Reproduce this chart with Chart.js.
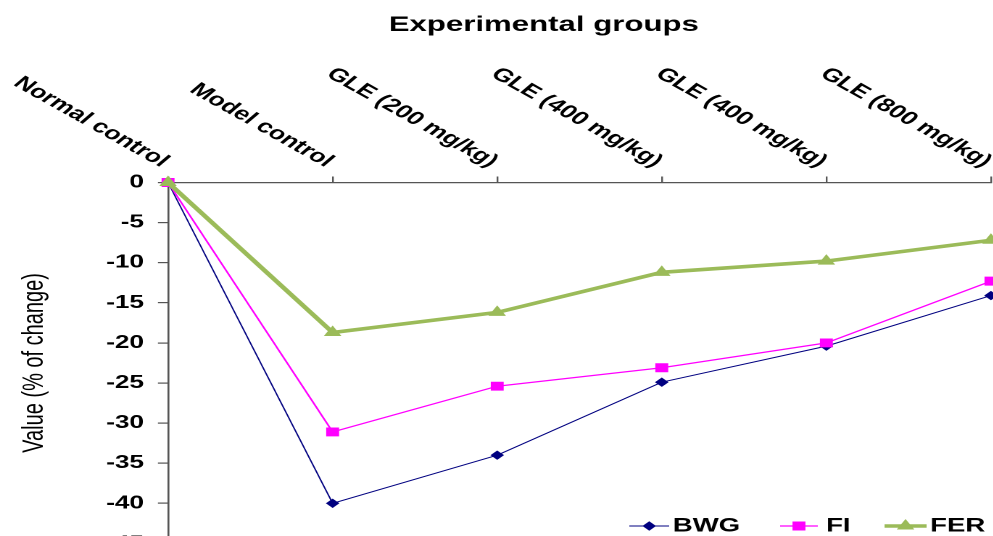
<!DOCTYPE html>
<html>
<head>
<meta charset="utf-8">
<script src="https://cdn.jsdelivr.net/npm/chart.js@4.4.1/dist/chart.umd.min.js"></script>
<style>
  html, body { margin: 0; padding: 0; background: #fff; overflow: hidden; }
  #frame { width: 993px; height: 536px; overflow: hidden; position: relative; }
  /* the chart is laid out narrow and widened horizontally */
  #stretch { width: 750px; height: 580px; transform: scale(1.45, 1); transform-origin: 0 0; }
</style>
</head>
<body>
<div id="frame"><div id="stretch"><canvas id="c" width="750" height="580"></canvas></div></div>
<script>
// Experimental groups along the top axis
const groups = ['Normal control', 'Model control', 'GLE (200 mg/kg)', 'GLE (400 mg/kg)', 'GLE (400 mg/kg)', 'GLE (800 mg/kg)'];

// % of change per group
const bwg = [0, -40.0, -34.0, -24.9, -20.4, -14.1];
const fi  = [0, -31.1, -25.4, -23.1, -20.0, -12.3];
const fer = [0, -18.7, -16.2, -11.2, -9.8, -7.2];

const seriesNames = ['BWG', 'FI', 'FER'];
const heading = 'Experimental groups';
const valueTitle = 'Value (% of change)';
const yMin = -45, yMax = 0, yStep = 5;

const FONT = "'Liberation Sans', Arial, Helvetica, sans-serif";
const LABEL_ANGLE = 39 * Math.PI / 180;

// Slanted group names ending at each tick, plus the heading
const groupLabels = {
  id: 'groupLabels',
  afterDraw(chart) {
    const ctx = chart.ctx;
    const xs = chart.scales.x;
    const top = chart.chartArea.top;
    ctx.save();
    ctx.fillStyle = '#000';
    ctx.font = 'bold 18.5px ' + FONT;
    ctx.textAlign = 'right';
    ctx.textBaseline = 'middle';
    chart.data.labels.forEach((g, i) => {
      ctx.save();
      ctx.translate(xs.getPixelForTick(i) - 2, top - 19);
      ctx.rotate(LABEL_ANGLE);
      ctx.fillText(g, 0, 0);
      ctx.restore();
    });
    ctx.font = 'bold 21.5px ' + FONT;
    ctx.textAlign = 'center';
    ctx.fillText(heading, 375, 25);
    ctx.restore();
  }
};

// Key in the lower right: line sample, marker, name
const lineKey = {
  id: 'lineKey',
  afterDraw(chart) {
    const ctx = chart.ctx;
    const y = 526;
    const slots = [
      { from: 434, to: 461.5, text: 464 },
      { from: 538, to: 564, text: 569.7 },
      { from: 610, to: 639, text: 641.5 }
    ];
    ctx.save();
    chart.data.datasets.forEach((ds, i) => {
      const s = slots[i];
      ctx.strokeStyle = ds.borderColor;
      ctx.lineWidth = ds.borderWidth;
      ctx.beginPath();
      ctx.moveTo(s.from, y);
      ctx.lineTo(s.to, y);
      ctx.stroke();
      ctx.fillStyle = ds.pointBackgroundColor;
      ctx.strokeStyle = ds.pointBorderColor;
      ctx.lineWidth = ds.pointBorderWidth;
      Chart.helpers.drawPoint(ctx, {
        pointStyle: ds.pointStyle, rotation: 0,
        radius: ds.pointRadius, borderWidth: ds.pointBorderWidth
      }, (s.from + s.to) / 2, y);
      ctx.fillStyle = '#000';
      ctx.font = 'bold 19px ' + FONT;
      ctx.textAlign = 'left';
      ctx.textBaseline = 'middle';
      ctx.fillText(ds.label, s.text, y + 0.5);
    });
    ctx.restore();
  }
};

const axisColor = '#555';

new Chart(document.getElementById('c'), {
  type: 'line',
  data: {
    labels: groups,
    datasets: [
      {
        label: seriesNames[0], data: bwg,
        borderColor: '#000080', backgroundColor: '#000080', borderWidth: 1,
        pointStyle: 'rectRot', pointRadius: 4,
        pointBackgroundColor: '#000080', pointBorderColor: '#000080', pointBorderWidth: 1,
        tension: 0, order: 2, clip: false
      },
      {
        label: seriesNames[1], data: fi,
        borderColor: '#FF00FF', backgroundColor: '#FF00FF', borderWidth: 1.3,
        pointStyle: 'rect', pointRadius: 5.6,
        pointBackgroundColor: '#FF00FF', pointBorderColor: '#FF00FF', pointBorderWidth: 1,
        tension: 0, order: 1, clip: false
      },
      {
        label: seriesNames[2], data: fer,
        borderColor: '#9BBB59', backgroundColor: '#9BBB59', borderWidth: 3.6,
        pointStyle: 'triangle', pointRadius: 6,
        pointBackgroundColor: '#9BBB59', pointBorderColor: '#9BBB59', pointBorderWidth: 1,
        tension: 0, order: 0, clip: false
      }
    ]
  },
  options: {
    responsive: false,
    animation: false,
    devicePixelRatio: 2,
    layout: { padding: { left: 0, right: 66.6, top: 0, bottom: 36.6 } },
    plugins: {
      legend: { display: false },
      tooltip: { enabled: false },
      title: { display: false }
    },
    scales: {
      x: {
        type: 'category',
        position: 'top',
        offset: false,
        ticks: { display: false },
        grid: { drawOnChartArea: false, drawTicks: true, tickLength: 6, color: axisColor, lineWidth: 1.2 },
        border: { color: axisColor, width: 1.3 },
        afterFit(s) { s.height = 182.5; }
      },
      y: {
        min: yMin, max: yMax,
        ticks: {
          stepSize: yStep, padding: 9.6, color: '#000',
          font: { family: FONT, size: 18, weight: 'bold' }
        },
        grid: { drawOnChartArea: false, drawTicks: true, tickLength: 7, color: axisColor, lineWidth: 1.2 },
        border: { color: axisColor, width: 1.3 },
        title: {
          display: true, text: valueTitle, color: '#000',
          font: { family: FONT, size: 20, weight: 'normal' },
          padding: { top: 12, bottom: 0 }
        },
        afterFit(s) { s.width = 115.9; }
      }
    }
  },
  plugins: [groupLabels, lineKey]
});
</script>
</body>
</html>
